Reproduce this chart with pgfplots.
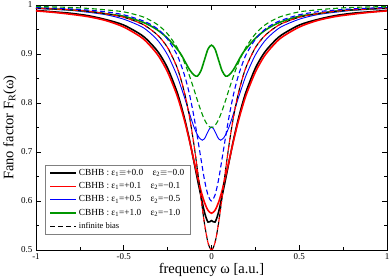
\documentclass[border=0pt]{standalone}
\usepackage{fontspec}
\setmainfont{Liberation Serif}
\usepackage{pgfplots}
\pgfplotsset{compat=1.18}
\definecolor{cgreen}{RGB}{0,150,0}
\begin{document}
\begin{tikzpicture}
\begin{axis}[
  scale only axis, width=351pt, height=245pt,
  xmin=-1, xmax=1, ymin=0.5, ymax=1,
  xtick={-1,-0.5,0,0.5,1}, xticklabels={-1,-0.5,0,0.5,1},
  ytick={0.5,0.6,0.7,0.8,0.9,1}, yticklabels={0.5,0.6,0.7,0.8,0.9,1},
  minor tick num=1,
  tick align=inside,
  major tick length=5pt, minor tick length=3pt,
  tick style={black, line width=0.6pt},
  axis line style={line width=0.8pt},
  ticklabel style={font=\fontsize{9}{10}\selectfont},
  xlabel={frequency ω [a.u.]},
  ylabel={Fano factor F\textsubscript{R}(ω)},
  label style={font=\fontsize{14.5}{16}\selectfont},
  xlabel style={yshift=3pt},
  ylabel style={yshift=-2pt},
  legend style={at={(rel axis cs:0.026,0.065)}, anchor=south west, draw=gray,
    font=\fontsize{9.3}{11}\selectfont, inner xsep=4pt, inner ysep=2pt, row sep=1.6pt,
    cells={anchor=west}},
  legend image code/.code={\draw[#1] (0pt,0pt) -- (26pt,0pt);},
  every axis plot/.append style={smooth},
]
% black solid
\addplot[forget plot, black, line width=1.6pt] coordinates {(-1,0.989)(-0.9,0.986)(-0.8,0.983)(-0.7,0.978)(-0.6,0.970)(-0.5,0.959)(-0.4,0.939)(-0.35,0.923)(-0.3,0.902)(-0.25,0.871)(-0.2,0.826)(-0.175,0.797)(-0.15,0.763)(-0.125,0.724)(-0.1,0.680)(-0.08,0.644)(-0.06,0.610)(-0.04,0.577)(-0.02,0.557)(0,0.560)(0.02,0.557)(0.04,0.577)(0.06,0.610)(0.08,0.644)(0.1,0.680)(0.125,0.724)(0.15,0.763)(0.175,0.797)(0.2,0.826)(0.25,0.871)(0.3,0.902)(0.35,0.923)(0.4,0.939)(0.5,0.959)(0.6,0.970)(0.7,0.978)(0.8,0.983)(0.9,0.986)(1,0.989)};
% red solid
\addplot[forget plot, red, line width=1.6pt] coordinates {(-1,0.988)(-0.9,0.985)(-0.8,0.981)(-0.7,0.976)(-0.6,0.968)(-0.5,0.955)(-0.4,0.934)(-0.35,0.917)(-0.3,0.895)(-0.25,0.863)(-0.2,0.819)(-0.175,0.791)(-0.15,0.759)(-0.125,0.722)(-0.1,0.682)(-0.08,0.651)(-0.06,0.621)(-0.04,0.597)(-0.02,0.581)(0,0.575)(0.02,0.581)(0.04,0.597)(0.06,0.621)(0.08,0.651)(0.1,0.682)(0.125,0.722)(0.15,0.759)(0.175,0.791)(0.2,0.819)(0.25,0.863)(0.3,0.895)(0.35,0.917)(0.4,0.934)(0.5,0.955)(0.6,0.968)(0.7,0.976)(0.8,0.981)(0.9,0.985)(1,0.988)};
% blue solid
\addplot[forget plot, blue, line width=0.9pt] coordinates {(-1,0.993)(-0.9,0.991)(-0.8,0.989)(-0.7,0.985)(-0.6,0.980)(-0.5,0.971)(-0.4,0.956)(-0.35,0.943)(-0.3,0.925)(-0.25,0.898)(-0.2,0.859)(-0.175,0.834)(-0.15,0.807)(-0.125,0.778)(-0.1,0.751)(-0.08,0.735)(-0.065,0.727)(-0.052,0.724)(-0.04,0.727)(-0.025,0.738)(-0.012,0.747)(0,0.751)(0.012,0.747)(0.025,0.738)(0.04,0.727)(0.052,0.724)(0.065,0.727)(0.08,0.735)(0.1,0.751)(0.125,0.778)(0.15,0.807)(0.175,0.834)(0.2,0.859)(0.25,0.898)(0.3,0.925)(0.35,0.943)(0.4,0.956)(0.5,0.971)(0.6,0.980)(0.7,0.985)(0.8,0.989)(0.9,0.991)(1,0.993)};
% green solid
\addplot[forget plot, cgreen, line width=1.6pt] coordinates {(-1,0.994)(-0.9,0.992)(-0.8,0.990)(-0.7,0.987)(-0.6,0.982)(-0.5,0.977)(-0.4,0.966)(-0.35,0.958)(-0.3,0.947)(-0.25,0.932)(-0.2,0.912)(-0.175,0.900)(-0.15,0.884)(-0.125,0.868)(-0.1,0.857)(-0.08,0.855)(-0.06,0.866)(-0.04,0.888)(-0.02,0.910)(0,0.918)(0.02,0.910)(0.04,0.888)(0.06,0.866)(0.08,0.855)(0.1,0.857)(0.125,0.868)(0.15,0.884)(0.175,0.900)(0.2,0.912)(0.25,0.932)(0.3,0.947)(0.35,0.958)(0.4,0.966)(0.5,0.977)(0.6,0.982)(0.7,0.987)(0.8,0.990)(0.9,0.992)(1,0.994)};
% dashed: infinite bias
\addplot[forget plot, black, line width=1.1pt, dash pattern=on 5pt off 3pt] coordinates {(-1,0.9935)(-0.9,0.992)(-0.8,0.990)(-0.7,0.987)(-0.6,0.982)(-0.5,0.975)(-0.4,0.962)(-0.35,0.951)(-0.3,0.936)(-0.25,0.913)(-0.2,0.876)(-0.175,0.849)(-0.15,0.815)(-0.125,0.771)(-0.1,0.715)(-0.08,0.663)(-0.06,0.607)(-0.04,0.554)(-0.02,0.515)(0,0.5)(0.02,0.515)(0.04,0.554)(0.06,0.607)(0.08,0.663)(0.1,0.715)(0.125,0.771)(0.15,0.815)(0.175,0.849)(0.2,0.876)(0.25,0.913)(0.3,0.936)(0.35,0.951)(0.4,0.962)(0.5,0.975)(0.6,0.982)(0.7,0.987)(0.8,0.990)(0.9,0.992)(1,0.9935)};
\addplot[forget plot, red, line width=1.1pt, dash pattern=on 5pt off 3pt, dash phase=3pt] coordinates {(-1,0.9935)(-0.9,0.992)(-0.8,0.990)(-0.7,0.987)(-0.6,0.982)(-0.5,0.975)(-0.4,0.962)(-0.35,0.951)(-0.3,0.936)(-0.25,0.913)(-0.2,0.876)(-0.175,0.849)(-0.15,0.815)(-0.125,0.771)(-0.1,0.715)(-0.08,0.663)(-0.06,0.607)(-0.04,0.554)(-0.02,0.515)(0,0.5)(0.02,0.515)(0.04,0.554)(0.06,0.607)(0.08,0.663)(0.1,0.715)(0.125,0.771)(0.15,0.815)(0.175,0.849)(0.2,0.876)(0.25,0.913)(0.3,0.936)(0.35,0.951)(0.4,0.962)(0.5,0.975)(0.6,0.982)(0.7,0.987)(0.8,0.990)(0.9,0.992)(1,0.9935)};
\addplot[forget plot, blue, line width=1.1pt, dash pattern=on 5pt off 3pt] coordinates {(-1,0.9948)(-0.9,0.9936)(-0.8,0.992)(-0.7,0.9895)(-0.6,0.986)(-0.5,0.980)(-0.4,0.969)(-0.35,0.961)(-0.3,0.949)(-0.25,0.930)(-0.2,0.901)(-0.175,0.879)(-0.15,0.852)(-0.125,0.817)(-0.1,0.772)(-0.08,0.730)(-0.06,0.686)(-0.04,0.643)(-0.02,0.612)(0,0.6)(0.02,0.612)(0.04,0.643)(0.06,0.686)(0.08,0.730)(0.1,0.772)(0.125,0.817)(0.15,0.852)(0.175,0.879)(0.2,0.901)(0.25,0.930)(0.3,0.949)(0.35,0.961)(0.4,0.969)(0.5,0.980)(0.6,0.986)(0.7,0.9895)(0.8,0.992)(0.9,0.9936)(1,0.9948)};
\addplot[forget plot, cgreen, line width=1.1pt, dash pattern=on 5pt off 3pt] coordinates {(-1,0.997)(-0.9,0.996)(-0.8,0.995)(-0.7,0.993)(-0.6,0.990)(-0.5,0.986)(-0.4,0.977)(-0.35,0.969)(-0.3,0.958)(-0.25,0.941)(-0.2,0.916)(-0.175,0.899)(-0.15,0.879)(-0.125,0.855)(-0.1,0.828)(-0.08,0.805)(-0.06,0.784)(-0.04,0.766)(-0.02,0.754)(0,0.75)(0.02,0.754)(0.04,0.766)(0.06,0.784)(0.08,0.805)(0.1,0.828)(0.125,0.855)(0.15,0.879)(0.175,0.899)(0.2,0.916)(0.25,0.941)(0.3,0.958)(0.35,0.969)(0.4,0.977)(0.5,0.986)(0.6,0.990)(0.7,0.993)(0.8,0.995)(0.9,0.996)(1,0.997)};
\addlegendimage{black, line width=1.6pt}
\addlegendentry{CBHB : ε\textsubscript{1}$\equiv$+0.0\quad ε\textsubscript{2}$\equiv$−0.0}
\addlegendimage{red, line width=1.2pt}
\addlegendentry{CBHB : ε\textsubscript{1}=+0.1\quad ε\textsubscript{2}=−0.1}
\addlegendimage{blue, line width=0.9pt}
\addlegendentry{CBHB : ε\textsubscript{1}=+0.5\quad ε\textsubscript{2}=−0.5}
\addlegendimage{cgreen, line width=1.6pt}
\addlegendentry{CBHB : ε\textsubscript{1}=+1.0\quad ε\textsubscript{2}=−1.0}
\addlegendimage{black, line width=1.1pt, dash pattern=on 5pt off 3pt}
\addlegendentry{\fontsize{8.5}{10}\selectfont infinite bias}
\end{axis}
\pgfresetboundingbox
\path ([shift={(-36pt,-29pt)}]current axis.south west) rectangle ([shift={(3pt,5pt)}]current axis.north east);
\end{tikzpicture}
\end{document}
